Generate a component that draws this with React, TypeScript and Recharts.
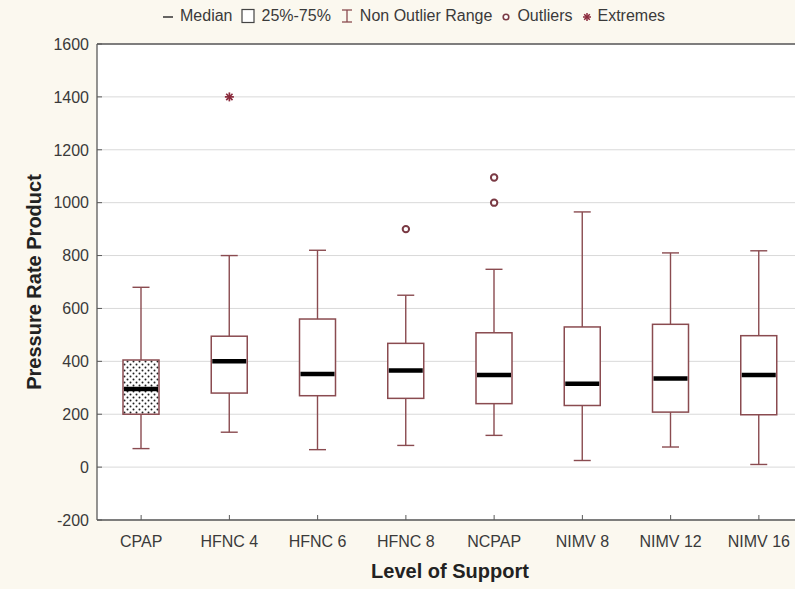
import React from "react";
import {
  ComposedChart,
  Bar,
  Line,
  XAxis,
  YAxis,
  CartesianGrid,
  ReferenceLine,
} from "recharts";

const categories = ["CPAP", "HFNC 4", "HFNC 6", "HFNC 8", "NCPAP", "NIMV 8", "NIMV 12", "NIMV 16"];
const whiskerLow = [70, 132, 66, 82, 120, 25, 76, 10];
const quartile1 = [200, 280, 270, 260, 240, 233, 208, 198];
const medians = [295, 400, 352, 365, 348, 315, 335, 348];
const quartile3 = [405, 495, 560, 468, 508, 530, 540, 497];
const whiskerHigh = [680, 800, 820, 650, 748, 965, 810, 818];
const outliersA = [null, null, null, 900, 1000, null, null, null];
const outliersB = [null, null, null, null, 1095, null, null, null];
const extremes = [null, 1400, null, null, null, null, null, null];
const yTicks = [-200, 0, 200, 400, 600, 800, 1000, 1200, 1400, 1600];

const rows = categories.map((name, i) => ({
  name,
  low: whiskerLow[i],
  q1: quartile1[i],
  median: medians[i],
  q3: quartile3[i],
  high: whiskerHigh[i],
  outA: outliersA[i],
  outB: outliersB[i],
  ext: extremes[i],
}));

const FONT = "'Liberation Sans', Arial, sans-serif";
const BOX = "#8a4b50";
const TEXT = "#3a3a3a";
const AXIS = "#5a5a5a";

const BoxShape = (props: any) => {
  const { x, y, width, height, payload, index } = props;
  const { low, high, q1, q3, median } = payload;
  const px = (v: number) => y + (height * (high - v)) / (high - low);
  const cx = x + width / 2;
  const cap = 8.5;
  const dotted = index === 0;
  return (
    <g>
      {dotted && (
        <defs>
          <pattern id="dots" width="6" height="6" patternUnits="userSpaceOnUse">
            <rect width="6" height="6" fill="#fff" />
            <circle cx="1.5" cy="1.5" r="1" fill="#222" />
            <circle cx="4.5" cy="4.5" r="1" fill="#222" />
          </pattern>
        </defs>
      )}
      <line x1={cx} x2={cx} y1={px(high)} y2={px(q3)} stroke={BOX} strokeWidth={1.4} />
      <line x1={cx} x2={cx} y1={px(q1)} y2={px(low)} stroke={BOX} strokeWidth={1.4} />
      <line x1={cx - cap} x2={cx + cap} y1={px(high)} y2={px(high)} stroke={BOX} strokeWidth={1.4} />
      <line x1={cx - cap} x2={cx + cap} y1={px(low)} y2={px(low)} stroke={BOX} strokeWidth={1.4} />
      <rect
        x={x}
        y={px(q3)}
        width={width}
        height={px(q1) - px(q3)}
        fill={dotted ? "url(#dots)" : "#fff"}
        stroke={BOX}
        strokeWidth={1.5}
      />
      <line x1={x + 1} x2={x + width - 1} y1={px(median)} y2={px(median)} stroke="#000" strokeWidth={4.5} />
    </g>
  );
};

const OutlierDot = (props: any) => {
  const { cx, cy, payload, dataKey, index } = props;
  if (payload[dataKey] == null) return <g key={`o-${dataKey}-${index}`} />;
  return (
    <circle key={`o-${dataKey}-${index}`} cx={cx} cy={cy} r={3.2} fill="#fff" stroke="#7a3a44" strokeWidth={2} />
  );
};

const ExtremeDot = (props: any) => {
  const { cx, cy, payload, index } = props;
  if (payload.ext == null) return <g key={`e-${index}`} />;
  const s = 4.5;
  const d = s * 0.7;
  return (
    <g key={`e-${index}`} stroke="#8a2a3c" strokeWidth={1.7}>
      <line x1={cx - s} x2={cx + s} y1={cy} y2={cy} />
      <line x1={cx} x2={cx} y1={cy - s} y2={cy + s} />
      <line x1={cx - d} x2={cx + d} y1={cy - d} y2={cy + d} />
      <line x1={cx - d} x2={cx + d} y1={cy + d} y2={cy - d} />
    </g>
  );
};

const XTick = (props: any) => {
  const { x, y, payload } = props;
  return (
    <g>
      <line x1={x} x2={x} y1={y} y2={y - 5} stroke={AXIS} />
      <text x={x} y={y + 27} textAnchor="middle" fontFamily={FONT} fontSize={16} fill={TEXT}>
        {payload.value}
      </text>
    </g>
  );
};

const YTick = (props: any) => {
  const { x, y, payload } = props;
  return (
    <g>
      <line x1={x} x2={x + 5} y1={y} y2={y} stroke={AXIS} />
      <text x={x - 8} y={y} dy="0.36em" textAnchor="end" fontFamily={FONT} fontSize={16} fill={TEXT}>
        {payload.value}
      </text>
    </g>
  );
};

const legendText: React.CSSProperties = { fontFamily: FONT, fontSize: 16, color: TEXT };

const LegendBar = () => (
  <div
    style={{
      position: "absolute",
      top: 7,
      left: 162,
      display: "flex",
      alignItems: "center",
      gap: 6,
      whiteSpace: "nowrap",
      ...legendText,
    }}
  >
    <svg width={12} height={14}>
      <line x1={1} x2={11} y1={8} y2={8} stroke="#333" strokeWidth={1.5} />
    </svg>
    <span>Median</span>
    <svg width={14} height={16} style={{ marginLeft: 3 }}>
      <rect x={1} y={1.5} width={12} height={13} fill="#fff" stroke="#444" strokeWidth={1.2} />
    </svg>
    <span>25%-75%</span>
    <svg width={14} height={16} style={{ marginLeft: 3 }}>
      <line x1={2} x2={12} y1={2} y2={2} stroke={BOX} strokeWidth={1.3} />
      <line x1={7} x2={7} y1={2} y2={14} stroke={BOX} strokeWidth={1.3} />
      <line x1={2} x2={12} y1={14} y2={14} stroke={BOX} strokeWidth={1.3} />
    </svg>
    <span>Non Outlier Range</span>
    <svg width={10} height={14} style={{ marginLeft: 3 }}>
      <circle cx={5} cy={8} r={2.8} fill="#fff" stroke="#7a3a44" strokeWidth={1.6} />
    </svg>
    <span>Outliers</span>
    <svg width={10} height={14} style={{ marginLeft: 3 }}>
      <g stroke="#8a2a3c" strokeWidth={1.5}>
        <line x1={1} x2={9} y1={8} y2={8} />
        <line x1={5} x2={5} y1={4} y2={12} />
        <line x1={2.2} x2={7.8} y1={5.2} y2={10.8} />
        <line x1={2.2} x2={7.8} y1={10.8} y2={5.2} />
      </g>
    </svg>
    <span>Extremes</span>
  </div>
);

export default function App() {
  return (
    <div
      style={{
        position: "absolute",
        left: 0,
        top: 0,
        width: 795,
        height: 589,
        overflow: "hidden",
        background: "#fbf8ef",
      }}
    >
      <LegendBar />
      <ComposedChart
        width={805}
        height={589}
        data={rows}
        margin={{ top: 44, right: 2, left: 0, bottom: 0 }}
      >
        <CartesianGrid horizontal vertical={false} stroke="#d9d9d9" fill="#ffffff" />
        <XAxis
          dataKey="name"
          height={69}
          tickSize={0}
          tickMargin={0}
          tick={<XTick />}
          tickLine={false}
          axisLine={{ stroke: AXIS, strokeWidth: 1.3 }}
          interval={0}
          label={{
            content: (p: any) => (
              <text
                x={p.viewBox.x + p.viewBox.width / 2}
                y={p.viewBox.y + 58}
                textAnchor="middle"
                fontFamily={FONT}
                fontSize={20}
                fontWeight="bold"
                fill="#222"
              >
                Level of Support
              </text>
            ),
          }}
        />
        <YAxis
          type="number"
          domain={[-200, 1600]}
          ticks={yTicks}
          width={97}
          tickSize={0}
          tickMargin={0}
          tick={<YTick />}
          tickLine={false}
          axisLine={{ stroke: AXIS, strokeWidth: 1.3 }}
          interval={0}
          label={{
            content: (p: any) => {
              const cx = 41;
              const cy = p.viewBox.y + p.viewBox.height / 2;
              return (
                <text
                  x={cx}
                  y={cy}
                  transform={`rotate(-90 ${cx} ${cy})`}
                  textAnchor="middle"
                  fontFamily={FONT}
                  fontSize={20}
                  fontWeight="bold"
                  fill="#222"
                >
                  Pressure Rate Product
                </text>
              );
            },
          }}
        />
        <ReferenceLine y={1600} stroke={AXIS} strokeWidth={1.3} />
        <Bar
          dataKey={(d: any) => [d.low, d.high]}
          barSize={36}
          shape={<BoxShape />}
          isAnimationActive={false}
        />
        <Line dataKey="outA" stroke="none" dot={<OutlierDot />} activeDot={false} isAnimationActive={false} />
        <Line dataKey="outB" stroke="none" dot={<OutlierDot />} activeDot={false} isAnimationActive={false} />
        <Line dataKey="ext" stroke="none" dot={<ExtremeDot />} activeDot={false} isAnimationActive={false} />
      </ComposedChart>
    </div>
  );
}
